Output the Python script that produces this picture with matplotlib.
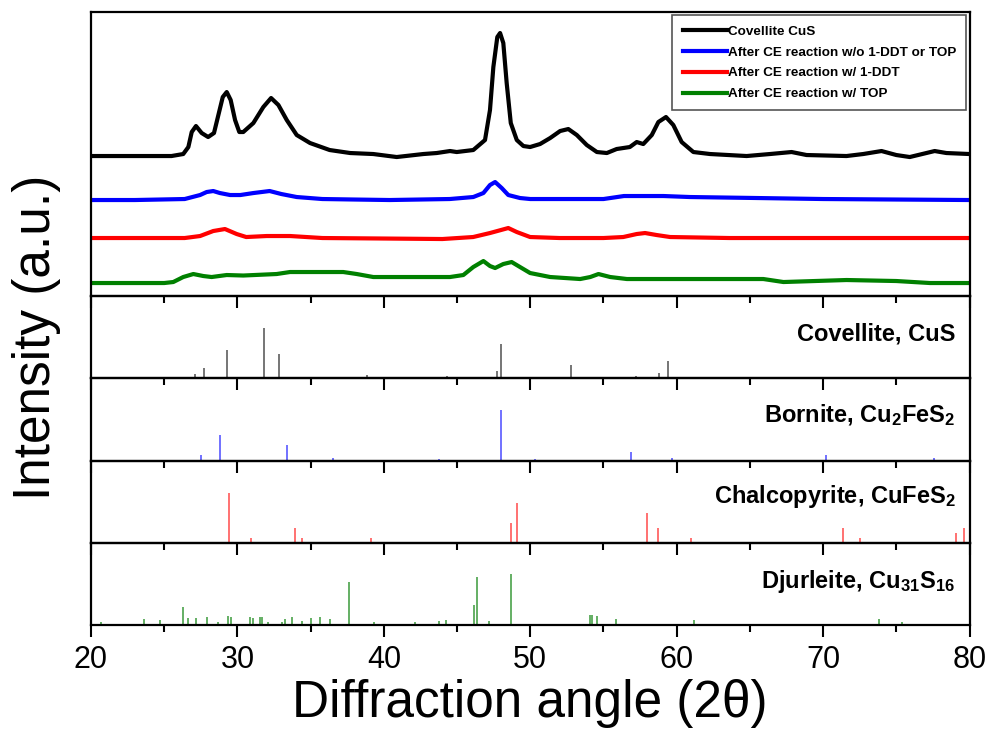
import numpy as np
import matplotlib.pyplot as plt

plt.rcdefaults()
plt.rcParams['font.family'] = 'Liberation Sans'
plt.rcParams['mathtext.default'] = 'regular'

# measured patterns (2theta, intensity a.u., offset stacked)
cus_x = [20.0, 23.0, 25.5, 26.3, 26.65, 26.88, 27.17, 27.56, 28.0, 28.4, 28.7, 29.0, 29.27,
         29.54, 29.84, 30.13, 30.4, 31.09, 31.77, 32.3, 32.8, 33.37, 34.05, 34.96, 36.3,
         37.7, 39.28, 40.88, 42.7, 43.61, 44.52, 44.98, 46.11, 46.91, 47.25, 47.48, 47.75,
         47.94, 48.16, 48.39, 48.67, 49.08, 49.53, 49.99, 50.67, 51.36, 52.04, 52.6, 53.18,
         53.86, 54.55, 55.23, 55.9, 56.8, 57.27, 57.72, 58.3, 58.75, 59.27, 59.77, 60.34,
         61.14, 62.28, 64.78, 66.37, 67.85, 68.87, 71.6, 72.74, 73.99, 75.0, 75.92, 77.62,
         78.42, 80.0]
cus_y = [140, 140, 140, 142, 149, 164, 170, 163, 159, 163, 181, 199, 204,
         196, 176, 164, 164, 173, 189, 198, 191, 176, 161, 153, 146,
         143, 142, 139, 142, 143, 145, 144, 146, 156, 186, 229, 259,
         263, 253, 213, 173, 156, 150, 149, 152, 158, 165, 167, 161,
         151, 144, 143, 147, 149, 154, 152, 161, 174, 179, 171, 154,
         144, 142, 140, 142, 144, 141, 140, 142, 145, 141, 139, 145,
         143, 142]

plain_x = [20.0, 23.0, 26.4, 27.45, 27.9, 28.35, 28.8, 29.5, 30.2, 31.1, 32.2, 33.0, 34.05,
           35.8, 38.0, 40.4, 44.5, 46.11, 46.8, 47.25, 47.6, 48.05, 48.5, 49.3, 50.0, 53.0,
           55.0, 56.4, 59.1, 60.9, 65.5, 70.0, 75.0, 80.0]
plain_y = [96, 96, 97, 101, 104, 105, 103, 101, 101, 103, 105, 102, 99,
           97, 96.5, 96, 97, 99, 103, 111, 114, 108, 101, 98, 97, 97,
           97, 100, 100, 99, 98, 97, 96.5, 96]

ddt_x = [20.0, 26.4, 27.45, 28.35, 29.15, 29.95, 30.6, 32.0, 33.6, 35.8, 40.0, 44.0, 46.1,
         47.25, 48.5, 49.08, 49.99, 52.0, 55.0, 56.35, 57.27, 57.84, 58.63, 59.55, 63.6,
         70.0, 80.0]
ddt_y = [58, 58, 60, 65, 67, 62, 59, 60, 60, 58, 57.5, 57, 59,
         63, 68, 64, 59, 58, 58, 59, 62, 63, 61, 59, 58,
         58, 58]

top_x = [20.0, 25.0, 25.62, 26.3, 26.99, 27.67, 28.24, 29.27, 30.4, 32.68, 33.59, 35.0,
         37.23, 38.15, 39.28, 44.52, 45.43, 46.11, 46.8, 47.25, 47.6, 48.16, 48.73, 49.3,
         49.99, 51.36, 53.41, 54.1, 54.66, 55.46, 56.6, 61.37, 65.92, 67.29, 71.6, 75.0,
         77.3, 80.0]
top_y = [13, 13, 14, 19, 22, 20, 19, 21, 20.5, 22, 24, 24,
         24, 22, 19, 19, 21, 29, 35, 30, 28, 32, 34, 29,
         23, 19, 17, 19, 22, 19, 17, 17, 17, 14, 16, 15,
         13, 13]

curve_labels = ['Covellite CuS', 'After CE reaction w/o 1-DDT or TOP',
                'After CE reaction w/ 1-DDT', 'After CE reaction w/ TOP']
curve_colors = ['black', 'blue', 'red', 'green']

# reference stick patterns (2theta, relative intensity)
cov_pos = [27.13, 27.7, 29.27, 31.8, 32.85, 38.83, 43.1, 44.3, 47.76, 48.0, 52.75, 55.9,
           57.2, 58.76, 59.4, 63.6, 67.4, 69.45, 74.1, 77.9, 79.2]
cov_int = [4.3, 10, 28.3, 50, 24.3, 3.3, 1.3, 1.7, 7.3, 34.3, 13.3, 1,
           1.7, 5, 16.7, 0.7, 1, 1, 1.3, 0.7, 1]

bor_pos = [27.49, 28.8, 33.4, 36.5, 43.8, 48.0, 50.3, 56.9, 59.7, 61.8, 67.1, 70.2, 72.2,
           77.1, 77.6]
bor_int = [6.3, 25.7, 15.7, 3, 2.3, 50.7, 2.3, 9, 3.3, 1, 1, 6.3, 0.7,
           0.7, 3]

chal_pos = [29.43, 30.9, 33.9, 34.4, 39.1, 48.7, 49.1, 57.95, 58.7, 61.0, 71.35, 72.5,
            79.1, 79.6]
chal_int = [50.3, 5, 15.3, 5, 5, 20, 40.3, 30.3, 15.3, 5, 15.3, 5,
            10, 15.3]

dju_pos = [20.68, 23.65, 24.7, 26.26, 26.6, 27.17, 27.95, 28.67, 29.34, 29.58, 30.88, 31.07,
           31.55, 31.7, 32.1, 33.02, 33.25, 33.73, 34.39, 35.0, 35.62, 36.3, 37.64, 39.35,
           42.13, 43.77, 44.25, 46.14, 46.35, 47.2, 48.68, 54.05, 54.24, 54.55, 55.87, 61.2,
           73.83, 75.4]
dju_int = [2.7, 6, 5, 17.7, 7, 7, 8, 3, 9, 8, 8, 7,
           8, 8, 3, 3, 6, 8, 4.3, 7, 8, 6, 43.3, 3,
           3, 4.3, 5, 20, 48.3, 4.3, 51, 10, 10, 9, 6, 5,
           6, 3]

ref_names = ['Covellite, CuS', 'Bornite, Cu$_2$FeS$_2$',
             'Chalcopyrite, CuFeS$_2$', 'Djurleite, Cu$_{31}$S$_{16}$']
ref_colors = ['#505050', '#4a4aff', '#ff4a4a', '#3a9a3a']
name_y = [0.463, 0.474, 0.484, 0.448]

fig = plt.figure(figsize=(9.89, 7.38), dpi=100)
gs = fig.add_gridspec(5, 1, height_ratios=[284, 82, 83, 82, 82], hspace=0,
                      left=0.092, right=0.9803, top=0.9837, bottom=0.1531)
axes = [fig.add_subplot(gs[i]) for i in range(5)]

# outward bottom ticks on every panel; transparent faces let them show in the panel below
for i, ax in enumerate(axes):
    ax.set_facecolor('none')
    ax.set_xlim(20, 80)
    ax.set_xticks(np.arange(20, 81, 10))
    ax.set_xticks(np.arange(25, 80, 10), minor=True)
    ax.set_yticks([])
    ax.tick_params(axis='x', which='major', direction='out', length=8.5, width=1.5,
                   top=False, bottom=True, labelbottom=(i == 4), labelsize=22, pad=6)
    ax.tick_params(axis='x', which='minor', direction='out', length=4.8, width=1.5,
                   top=False, bottom=True)
    for sp in ax.spines.values():
        sp.set_linewidth(1.6)

ax = axes[0]
for xs, ys, lab, col in zip([cus_x, plain_x, ddt_x, top_x], [cus_y, plain_y, ddt_y, top_y],
                            curve_labels, curve_colors):
    ax.plot(xs, ys, color=col, lw=3.0, label=lab, solid_joinstyle='round')
ax.set_ylim(0, 284)
leg = ax.legend(loc='upper right', bbox_to_anchor=(1, 1), borderaxespad=0.25,
                prop={'weight': 'bold', 'size': 9.7}, handlelength=3.3, handletextpad=0.05,
                labelspacing=0.62, fancybox=False, framealpha=1, borderpad=0.75)
leg.get_frame().set_edgecolor('#555555')
leg.get_frame().set_linewidth(1.2)
for line in leg.get_lines():
    line.set_linewidth(3)

refs = [(cov_pos, cov_int), (bor_pos, bor_int), (chal_pos, chal_int), (dju_pos, dju_int)]
for i, (pos, inten) in enumerate(refs):
    ax = axes[i + 1]
    ax.vlines(pos, 0, inten, color=ref_colors[i], lw=1.1)
    ax.set_ylim(0, 82)
    ax.text(0.984, name_y[i], ref_names[i], transform=ax.transAxes, ha='right',
            va='baseline', fontsize=17, fontweight='bold')

fig.text(0.037, 0.5434, 'Intensity (a.u.)', rotation=90, ha='center', va='center', fontsize=37)
fig.text(0.536, 0.047, 'Diffraction angle (2\u03b8)', ha='center', va='center', fontsize=37)

fig.savefig('out.png', dpi=100)

# sanity check: inner tick at 2theta = 30 just below the top panel
img = plt.imread('out.png')
patch = img[300:306, 237, :3].mean()
if patch > 0.5:
    raise SystemExit('inner tick missing, mean=%.2f' % patch)
